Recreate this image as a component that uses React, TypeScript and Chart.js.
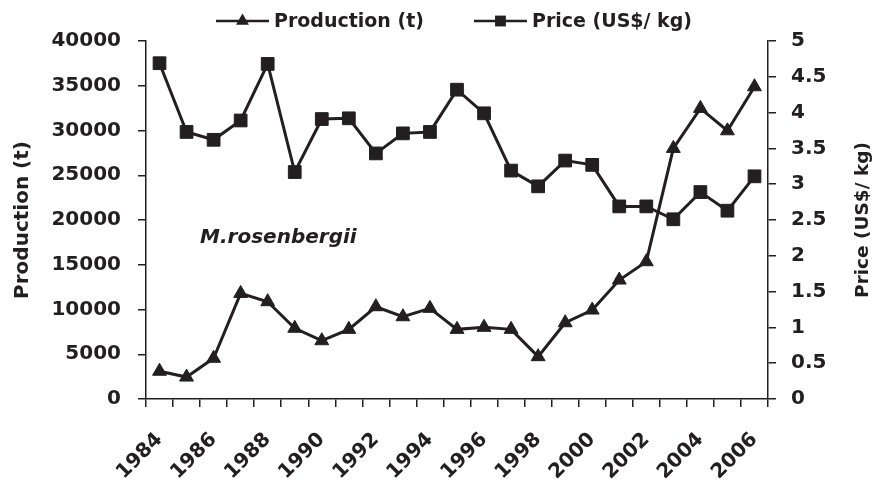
import React, { useEffect, useRef } from 'react';
import { Chart, registerables } from 'chart.js';

Chart.register(...registerables);

const FONT = '"DejaVu Sans", sans-serif';
const INK = '#231f20';

const years = [
  '1984', '1985', '1986', '1987', '1988', '1989', '1990', '1991', '1992', '1993', '1994', '1995',
  '1996', '1997', '1998', '1999', '2000', '2001', '2002', '2003', '2004', '2005', '2006',
];
const production = [
  3100, 2450, 4550, 11800, 10870, 7900, 6510, 7780, 10310, 9190, 10130, 7780,
  8010, 7780, 4730, 8520, 9940, 13290, 15340, 28000, 32470, 29970, 34890,
];
const price = [
  4.69, 3.73, 3.62, 3.89, 4.68, 3.17, 3.91, 3.92, 3.43, 3.71, 3.73, 4.32,
  3.99, 3.19, 2.97, 3.33, 3.27, 2.69, 2.69, 2.51, 2.89, 2.63, 3.11,
];
const seriesLabels = ['Production (t)', 'Price (US$/ kg)'];
const leftTitle = 'Production (t)';
const rightTitle = 'Price (US$/ kg)';
const annotationText = 'M.rosenbergii';
const annotationAt = { index: 1.5, value: 17400 };

function drawMarker(ctx: CanvasRenderingContext2D, style: string, x: number, y: number, r: number) {
  ctx.beginPath();
  if (style === 'triangle') {
    ctx.moveTo(x, y - r);
    ctx.lineTo(x + r * 0.866, y + r / 2);
    ctx.lineTo(x - r * 0.866, y + r / 2);
    ctx.closePath();
  } else {
    const s = r * 0.72;
    ctx.rect(x - s, y - s, 2 * s, 2 * s);
  }
  ctx.fill();
}

const decorPlugin = {
  id: 'decor',
  afterDraw(chart: any) {
    const ctx: CanvasRenderingContext2D = chart.ctx;
    const area = chart.chartArea;
    const midY = (area.top + area.bottom) / 2;
    ctx.save();
    ctx.fillStyle = INK;
    ctx.strokeStyle = INK;

    // axis titles (both read bottom-to-top)
    ctx.textAlign = 'center';
    ctx.textBaseline = 'middle';
    ctx.font = `bold 20px ${FONT}`;
    ctx.save();
    ctx.translate(23, midY);
    ctx.rotate(-Math.PI / 2);
    ctx.fillText(leftTitle, 0, 0);
    ctx.restore();
    ctx.font = `bold 18.5px ${FONT}`;
    ctx.save();
    ctx.translate(863, midY);
    ctx.rotate(-Math.PI / 2);
    ctx.fillText(rightTitle, 0, 0);
    ctx.restore();

    // annotation
    const xs = chart.scales.x;
    const ys = chart.scales.y;
    ctx.font = `italic bold 20px ${FONT}`;
    ctx.textAlign = 'left';
    ctx.textBaseline = 'alphabetic';
    ctx.fillText(annotationText, xs.getPixelForValue(annotationAt.index), ys.getPixelForValue(annotationAt.value));

    // legend
    ctx.font = `bold 19px ${FONT}`;
    ctx.textBaseline = 'middle';
    const lineLen = 53;
    const gap = 5;
    const itemGap = 50;
    const items = chart.data.datasets.map((ds: any) => ({
      label: ds.label,
      style: ds.pointStyle,
      w: ctx.measureText(ds.label).width,
    }));
    const total = items.reduce((s: number, it: any) => s + lineLen + gap + it.w, 0) + itemGap * (items.length - 1);
    let x = (area.left + area.right) / 2 - total / 2 - 3;
    const y = 21;
    for (const it of items) {
      ctx.lineWidth = 2.5;
      ctx.beginPath();
      ctx.moveTo(x, y);
      ctx.lineTo(x + lineLen, y);
      ctx.stroke();
      drawMarker(ctx, it.style, x + lineLen / 2, y, 7.5);
      ctx.fillText(it.label, x + lineLen + gap, y + 1);
      x += lineLen + gap + it.w + itemGap;
    }
    ctx.restore();
  },
};

export default function App() {
  const ref = useRef<HTMLCanvasElement | null>(null);

  useEffect(() => {
    document.body.style.margin = '0';
    const canvas = ref.current;
    if (!canvas) return;
    const tickFont = { family: FONT, size: 20, weight: 'bold' as const };
    const chart = new Chart(canvas, {
      type: 'line',
      data: {
        labels: years,
        datasets: [
          {
            label: seriesLabels[0],
            data: production,
            yAxisID: 'y',
            borderColor: INK,
            backgroundColor: INK,
            borderWidth: 3,
            pointStyle: 'triangle',
            pointRadius: 8,
            pointBorderWidth: 1,
            tension: 0,
            clip: false as any,
          },
          {
            label: seriesLabels[1],
            data: price,
            yAxisID: 'y1',
            borderColor: INK,
            backgroundColor: INK,
            borderWidth: 3,
            pointStyle: 'rect',
            pointRadius: 9,
            pointBorderWidth: 1,
            tension: 0,
            clip: false as any,
          },
        ],
      },
      options: {
        responsive: false,
        animation: false,
        layout: { padding: { top: 41, left: 0, right: 0, bottom: 0 } },
        plugins: {
          legend: { display: false },
          tooltip: { enabled: false },
        },
        scales: {
          x: {
            type: 'category',
            offset: true,
            grid: {
              offset: true,
              drawOnChartArea: false,
              drawTicks: true,
              tickLength: 8,
              color: INK,
              lineWidth: 1.5,
            },
            border: { display: true, color: INK, width: 1.5 },
            ticks: {
              autoSkip: false,
              maxRotation: 45,
              minRotation: 45,
              padding: 21,
              color: INK,
              font: tickFont,
              callback: (_v: any, i: number) => (i % 2 === 0 ? years[i] : ''),
            },
            afterFit: (s: any) => {
              s.height = 81;
            },
          },
          y: {
            type: 'linear',
            position: 'left',
            min: 0,
            max: 40000,
            grid: {
              drawOnChartArea: false,
              drawTicks: true,
              tickLength: 8,
              color: INK,
              lineWidth: 1.5,
            },
            border: { display: true, color: INK, width: 1.5 },
            ticks: {
              stepSize: 5000,
              padding: 17,
              color: INK,
              font: tickFont,
              callback: (v: any) => String(v),
            },
            afterFit: (s: any) => {
              s.width = 146;
            },
          },
          y1: {
            type: 'linear',
            position: 'right',
            min: 0,
            max: 5,
            grid: {
              drawOnChartArea: false,
              drawTicks: true,
              tickLength: 8,
              color: INK,
              lineWidth: 1.5,
            },
            border: { display: true, color: INK, width: 1.5 },
            ticks: {
              stepSize: 0.5,
              padding: 15,
              color: INK,
              font: tickFont,
              callback: (v: any) => String(v),
            },
            afterFit: (s: any) => {
              s.width = 109;
            },
          },
        },
      },
      plugins: [decorPlugin],
    });
    return () => chart.destroy();
  }, []);

  return (
    <div style={{ width: 877, height: 480, background: '#fff' }}>
      <canvas ref={ref} width={877} height={480} />
    </div>
  );
}
